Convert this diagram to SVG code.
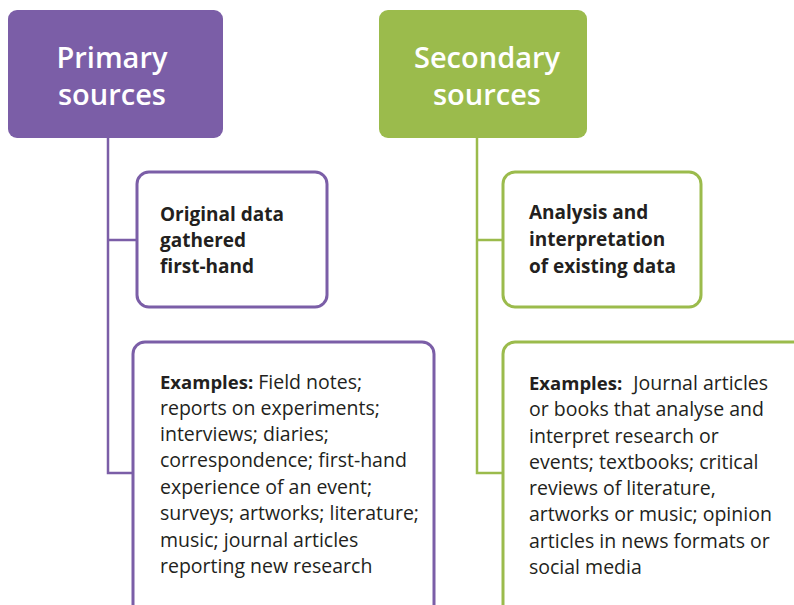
<svg xmlns="http://www.w3.org/2000/svg" width="794" height="605" viewBox="0 0 794 605">
<style>
.head{font-family:"Open Sans","Noto Sans",sans-serif;font-weight:600;font-size:29px;fill:#ffffff;text-anchor:middle}
.t{font-family:"Open Sans","Noto Sans",sans-serif;font-size:19.5px;fill:#231f20}
.d{font-family:"Open Sans","Noto Sans",sans-serif;font-size:19px;font-weight:700;fill:#231f20}
.b{font-weight:700;font-size:18.5px}
.pbox{fill:#ffffff;stroke:#7b5ea7;stroke-width:3}
.sbox{fill:#ffffff;stroke:#9bbb4c;stroke-width:3}
.pl{fill:none;stroke:#7b5ea7;stroke-width:2.5}
.sl{fill:none;stroke:#9bbb4c;stroke-width:2.5}
</style>
<rect width="794" height="605" fill="#ffffff"/>
<g id="connectors">
<path class="pl" d="M108 137 V473 H133 M108 240 H137"/>
<path class="sl" d="M477 137 V473 H503 M477 240 H503"/>
</g>
<g id="primary">
<rect x="8" y="10" width="215" height="128" rx="9" fill="#7b5ea7"/>
<text class="head" x="112" y="68">Primary</text>
<text class="head" x="112" y="105">sources</text>
</g>
<g id="secondary">
<rect x="379" y="10" width="208" height="128" rx="9" fill="#9bbb4c"/>
<text class="head" x="487" y="68">Secondary</text>
<text class="head" x="487" y="105">sources</text>
</g>
<g id="primary-def">
<rect class="pbox" x="137" y="172" width="190" height="135" rx="12"/>
<text class="d" x="160" y="221">Original data</text>
<text class="d" x="160" y="247">gathered</text>
<text class="d" x="160" y="273">first-hand</text>
</g>
<g id="primary-examples">
<rect class="pbox" x="133" y="342" width="301" height="290" rx="12"/>
<text class="t" x="160" y="389"><tspan class="b">Examples:</tspan> Field notes;</text>
<text class="t" x="160" y="415">reports on experiments;</text>
<text class="t" x="160" y="441">interviews; diaries;</text>
<text class="t" x="160" y="467">correspondence; first-hand</text>
<text class="t" x="160" y="494">experience of an event;</text>
<text class="t" x="160" y="520">surveys; artworks; literature;</text>
<text class="t" x="160" y="547">music; journal articles</text>
<text class="t" x="160" y="573">reporting new research</text>
</g>
<g id="secondary-def">
<rect class="sbox" x="503" y="172" width="198" height="135" rx="12"/>
<text class="d" x="529" y="219">Analysis and</text>
<text class="d" x="529" y="246">interpretation</text>
<text class="d" x="529" y="273">of existing data</text>
</g>
<g id="secondary-examples">
<rect class="sbox" x="503" y="342" width="320" height="290" rx="12"/>
<text class="t" x="529" y="390"><tspan class="b">Examples:</tspan> <tspan dx="6">Journal articles</tspan></text>
<text class="t" x="529" y="416">or books that analyse and</text>
<text class="t" x="529" y="443">interpret research or</text>
<text class="t" x="529" y="469">events; textbooks; critical</text>
<text class="t" x="529" y="495">reviews of literature,</text>
<text class="t" x="529" y="521">artworks or music; opinion</text>
<text class="t" x="529" y="548">articles in news formats or</text>
<text class="t" x="529" y="574">social media</text>
</g>
</svg>
